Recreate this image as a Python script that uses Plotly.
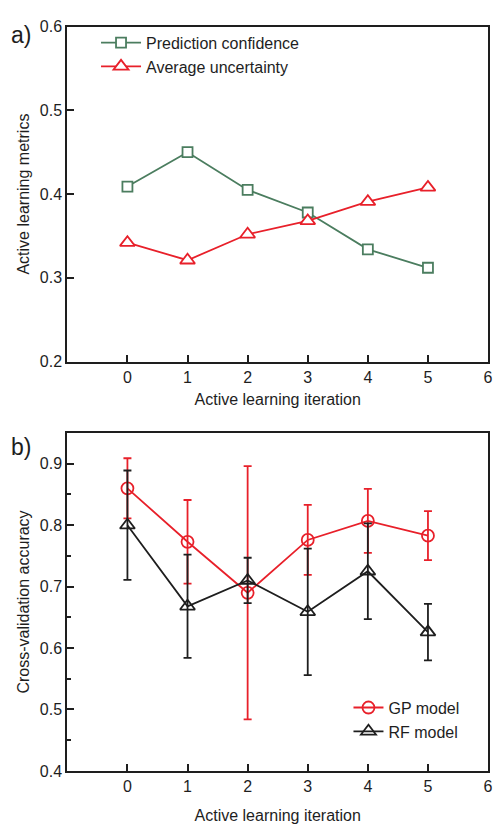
import plotly.graph_objects as go

# Active learning iterations shared by both panels
iterations = [0, 1, 2, 3, 4, 5]

# Panel a: active learning metrics
prediction_confidence = [0.409, 0.450, 0.405, 0.378, 0.334, 0.312]
average_uncertainty = [0.342, 0.321, 0.352, 0.368, 0.391, 0.408]

# Panel b: cross-validation accuracy with error bars
gp_accuracy = [0.860, 0.773, 0.690, 0.776, 0.807, 0.783]
gp_error = [0.049, 0.068, 0.206, 0.057, 0.052, 0.040]
rf_accuracy = [0.800, 0.668, 0.710, 0.659, 0.725, 0.626]
rf_error = [0.089, 0.084, 0.037, 0.103, 0.078, 0.046]

x_ticks = [0, 1, 2, 3, 4, 5, 6]
a_y_ticks = [0.2, 0.3, 0.4, 0.5, 0.6]
b_y_ticks = [0.4, 0.5, 0.6, 0.7, 0.8, 0.9]

GREEN = "#4b7d5f"
RED = "#e8202a"
BLACK = "#1e1e1e"
FONT = "Liberation Sans, Arial, sans-serif"
FS = 16

fig = go.Figure()

fig.add_trace(go.Scatter(
    x=iterations, y=prediction_confidence, name="Prediction confidence",
    mode="lines+markers", xaxis="x", yaxis="y", legend="legend",
    line=dict(color=GREEN, width=1.8),
    marker=dict(symbol="square", size=10, color="white",
                line=dict(color=GREEN, width=1.8)),
))
fig.add_trace(go.Scatter(
    x=iterations, y=average_uncertainty, name="Average uncertainty",
    mode="lines+markers", xaxis="x", yaxis="y", legend="legend",
    line=dict(color=RED, width=1.8),
    marker=dict(symbol="triangle-up", size=13, color="white",
                line=dict(color=RED, width=1.8)),
))

fig.add_trace(go.Scatter(
    x=iterations, y=gp_accuracy, name="GP model",
    mode="lines+markers", xaxis="x2", yaxis="y2", legend="legend2",
    line=dict(color=RED, width=1.8),
    marker=dict(symbol="circle-open", size=12,
                line=dict(color=RED, width=1.8)),
    error_y=dict(type="data", array=gp_error, visible=True,
                 color=RED, thickness=1.8, width=4),
))
fig.add_trace(go.Scatter(
    x=iterations, y=rf_accuracy, name="RF model",
    mode="lines+markers", xaxis="x2", yaxis="y2", legend="legend2",
    line=dict(color=BLACK, width=1.8),
    marker=dict(symbol="triangle-up-open", size=13,
                line=dict(color=BLACK, width=1.8)),
    error_y=dict(type="data", array=rf_error, visible=True,
                 color=BLACK, thickness=1.8, width=4),
))

axis_common = dict(
    showline=True, linecolor=BLACK, linewidth=2, mirror=True,
    ticks="inside", ticklen=7, tickwidth=1.5, tickcolor=BLACK,
    showgrid=False, zeroline=False,
    tickfont=dict(family=FONT, size=FS, color=BLACK),
)
title_font = dict(family=FONT, size=FS, color=BLACK)

x_dom = [68 / 499, 493 / 499]

fig.update_layout(
    width=499, height=824,
    margin=dict(l=0, r=0, t=0, b=0),
    paper_bgcolor="white", plot_bgcolor="white",
    font=dict(family=FONT, size=FS, color=BLACK),
    showlegend=True,
    xaxis=dict(
        **axis_common, domain=x_dom, anchor="y", range=[-1, 6],
        tickvals=x_ticks,
        title=dict(text="Active learning iteration", standoff=9,
                   font=title_font),
    ),
    yaxis=dict(
        **axis_common, domain=[1 - 361 / 824, 1 - 19 / 824], anchor="x",
        range=[0.2, 0.6], tickvals=a_y_ticks, tickformat=".1f",
        title=dict(text="Active learning metrics", standoff=6,
                   font=title_font),
    ),
    xaxis2=dict(
        **axis_common, domain=x_dom, anchor="y2", range=[-1, 6],
        tickvals=x_ticks,
        title=dict(text="Active learning iteration", standoff=16,
                   font=title_font),
    ),
    yaxis2=dict(
        **axis_common, domain=[1 - 779 / 824, 1 - 434 / 824], anchor="x2",
        range=[0.4, 0.95], tickvals=b_y_ticks, tickformat=".1f",
        minor=dict(ticks="inside", ticklen=4, tickwidth=1.5,
                   tickcolor=BLACK, dtick=0.05, tick0=0.4, showgrid=False),
        title=dict(text="Cross-validation accuracy", standoff=6,
                   font=title_font),
    ),
    legend=dict(
        x=97 / 499, y=1 - 18 / 824, xanchor="left", yanchor="top",
        bgcolor="rgba(0,0,0,0)", borderwidth=0,
        font=dict(family=FONT, size=FS, color=BLACK),
        tracegroupgap=0, itemwidth=40,
    ),
    legend2=dict(
        x=352 / 499, y=1 - 697 / 824, xanchor="left", yanchor="top",
        bgcolor="rgba(0,0,0,0)", borderwidth=0,
        font=dict(family=FONT, size=FS, color=BLACK),
        tracegroupgap=0, itemwidth=30,
    ),
    annotations=[
        dict(text="a)", x=9 / 499, y=1 - 28 / 824, xref="paper", yref="paper",
             xanchor="left", yanchor="middle", showarrow=False,
             font=dict(family=FONT, size=23, color=BLACK)),
        dict(text="b)", x=9 / 499, y=1 - 448 / 824, xref="paper", yref="paper",
             xanchor="left", yanchor="middle", showarrow=False,
             font=dict(family=FONT, size=23, color=BLACK)),
    ],
)

fig.write_html("out.html")
